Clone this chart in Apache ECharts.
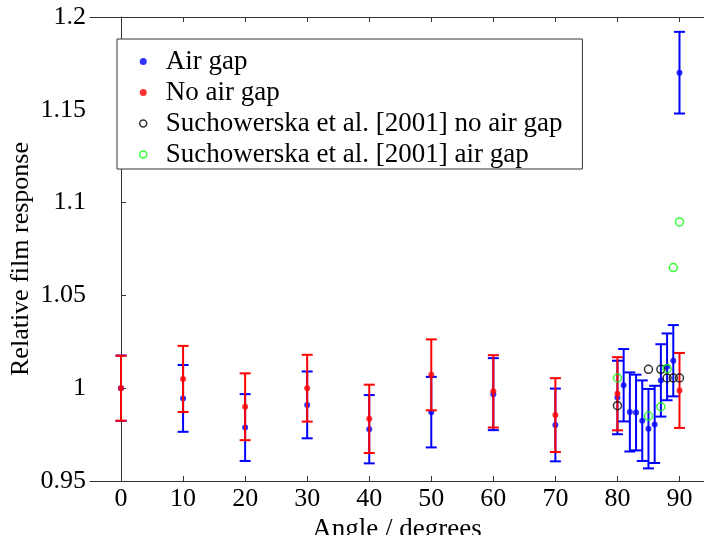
<!DOCTYPE html>
<html>
<head>
<meta charset="utf-8">
<script src="https://cdn.jsdelivr.net/npm/echarts@6/dist/echarts.min.js"></script>
<style>html,body{margin:0;padding:0;background:#fff}#c{width:704px;height:535px}</style>
</head>
<body>
<div id="c"></div>
<script>
// ---- data ----
var noGapAngles = [0, 10, 20, 30, 40, 50, 60, 70, 80, 90];
var noGapMean   = [1.000, 1.005, 0.990, 1.000, 0.9835, 1.0072, 0.9983, 0.9855, 0.997, 0.9988];
var noGapErr    = [0.0175, 0.0178, 0.018, 0.018, 0.0184, 0.0191, 0.0195, 0.0199, 0.0197, 0.0202];

var airAngles = [0, 10, 20, 30, 40, 50, 60, 70, 80, 81, 82, 83, 84, 85, 86, 87, 88, 89, 90];
var airMean   = [1.000, 0.9945, 0.9788, 0.991, 0.9779, 0.9871, 0.9968, 0.9802, 0.995, 1.0016, 0.9872, 0.9869, 0.9825, 0.9782, 0.9805, 1.0042, 1.0115, 1.0148, 1.170];
var airErr    = [0.0176, 0.018, 0.018, 0.018, 0.0184, 0.019, 0.0194, 0.0196, 0.0198, 0.0195, 0.0213, 0.0204, 0.0217, 0.0214, 0.0208, 0.0195, 0.018, 0.0192, 0.022];

var suchAngles  = [80, 85, 87, 88, 89, 90];
var suchNoGap   = [0.9906, 1.0102, 1.0102, 1.0055, 1.0055, 1.0055];
var suchAirAngles = [80, 85, 87, 88, 89, 90];
var suchAirGap  = [1.0055, 0.985, 0.990, 1.0105, 1.065, 1.0896];

var xTicks = [0, 10, 20, 30, 40, 50, 60, 70, 80, 90];
var yTicks = [0.95, 1, 1.05, 1.1, 1.15, 1.2];

var seriesNames = ['Air gap', 'No air gap', 'Suchowerska et al. [2001] no air gap', 'Suchowerska et al. [2001] air gap'];

// ---- build ----
function zip(a, b) { return a.map(function (v, i) { return [v, b[i]]; }); }
function errData(a, m, e) { return a.map(function (v, i) { return [v, m[i] - e[i], m[i] + e[i]]; }); }

function errRender(color) {
  return function (params, api) {
    var x = api.value(0), lo = api.value(1), hi = api.value(2);
    var p1 = api.coord([x, lo]), p2 = api.coord([x, hi]);
    var w = 5.5;
    var st = { stroke: color, lineWidth: 2 };
    return {
      type: 'group',
      children: [
        { type: 'line', shape: { x1: p1[0], y1: p1[1], x2: p2[0], y2: p2[1] }, style: st },
        { type: 'line', shape: { x1: p1[0] - w, y1: p1[1], x2: p1[0] + w, y2: p1[1] }, style: st },
        { type: 'line', shape: { x1: p2[0] - w, y1: p2[1], x2: p2[0] + w, y2: p2[1] }, style: st }
      ]
    };
  };
}

var FONT = 'Liberation Serif';
var axisCol = '#333';

var chart = echarts.init(document.getElementById('c'), null, { renderer: 'canvas' });
chart.setOption({
  animation: false,
  backgroundColor: '#fff',
  textStyle: { fontFamily: FONT },
  grid: { left: 90, top: 17, right: 0, bottom: 54, containLabel: false, outerBoundsMode: 'none' },
  legend: {
    orient: 'vertical',
    left: 117, top: 39,
    backgroundColor: '#fff',
    borderColor: axisCol, borderWidth: 1, borderRadius: 0,
    padding: [9, 20, 1, 22],
    itemWidth: 7, itemHeight: 7, itemGap: 4,
    textStyle: { fontFamily: FONT, fontSize: 27, color: '#000', padding: [0, 0, 0, 14], lineHeight: 26 },
    data: [
      { name: seriesNames[0], icon: 'circle', itemStyle: { color: '#0000ff' } },
      { name: seriesNames[1], icon: 'circle', itemStyle: { color: '#ff0000' } },
      { name: seriesNames[2], icon: 'circle', itemStyle: { color: 'rgba(0,0,0,0)', borderColor: '#000', borderWidth: 1.5 } },
      { name: seriesNames[3], icon: 'circle', itemStyle: { color: 'rgba(0,0,0,0)', borderColor: '#00ff00', borderWidth: 1.5 } }
    ]
  },
  xAxis: [{
    type: 'value', min: -5, max: 93.95,
    name: 'Angle / degrees', nameLocation: 'middle', nameGap: 26,
    nameTextStyle: { fontFamily: FONT, fontSize: 27, color: '#000' },
    axisLine: { show: true, lineStyle: { color: axisCol, width: 1 } },
    axisTick: { show: true, inside: true, length: 5, lineStyle: { color: axisCol },
      customValues: xTicks },
    axisLabel: { fontFamily: FONT, fontSize: 26, color: '#000', margin: 5, customValues: xTicks },
    splitLine: { show: false }
  }, {
    type: 'value', min: -5, max: 93.95, position: 'top',
    axisLine: { show: true, onZero: false, lineStyle: { color: axisCol, width: 1 } },
    axisTick: { show: true, inside: true, length: 5, lineStyle: { color: axisCol }, customValues: xTicks },
    axisLabel: { show: false },
    splitLine: { show: false }
  }],
  yAxis: [{
    type: 'value', min: 0.95, max: 1.2, interval: 0.05,
    name: 'Relative film response', nameLocation: 'middle', nameGap: 56, nameMoveOverlap: false,
    nameTextStyle: { fontFamily: FONT, fontSize: 26, color: '#000', padding: [0, 20, 0, 0] },
    axisLine: { show: true, lineStyle: { color: axisCol, width: 1 } },
    axisTick: { show: true, inside: true, length: 5, lineStyle: { color: axisCol } },
    axisLabel: { fontFamily: FONT, fontSize: 26, color: '#000', margin: 4,
      formatter: function (v) { return String(Math.round(v * 100) / 100); } },
    splitLine: { show: false }
  }],
  series: [
    { name: seriesNames[0] + ' err', type: 'custom', renderItem: errRender('#0000ff'),
      data: errData(airAngles, airMean, airErr), encode: { x: 0, y: [1, 2] }, z: 2, silent: true },
    { name: seriesNames[0], type: 'scatter', data: zip(airAngles, airMean), symbol: 'circle', symbolSize: 6,
      itemStyle: { color: '#0000ff' }, z: 3 },
    { name: seriesNames[1] + ' err', type: 'custom', renderItem: errRender('#ff0000'),
      data: errData(noGapAngles, noGapMean, noGapErr), encode: { x: 0, y: [1, 2] }, z: 4, silent: true },
    { name: seriesNames[1], type: 'scatter', data: zip(noGapAngles, noGapMean), symbol: 'circle', symbolSize: 6,
      itemStyle: { color: '#ff0000' }, z: 5 },
    { name: seriesNames[2], type: 'scatter', data: zip(suchAngles, suchNoGap), symbol: 'circle', symbolSize: 8,
      itemStyle: { color: 'rgba(0,0,0,0)', borderColor: '#000', borderWidth: 1.5 }, z: 6 },
    { name: seriesNames[3], type: 'scatter', data: zip(suchAirAngles, suchAirGap), symbol: 'circle', symbolSize: 8,
      itemStyle: { color: 'rgba(0,0,0,0)', borderColor: '#00ff00', borderWidth: 1.5 }, z: 7 }
  ]
});
</script>
</body>
</html>
